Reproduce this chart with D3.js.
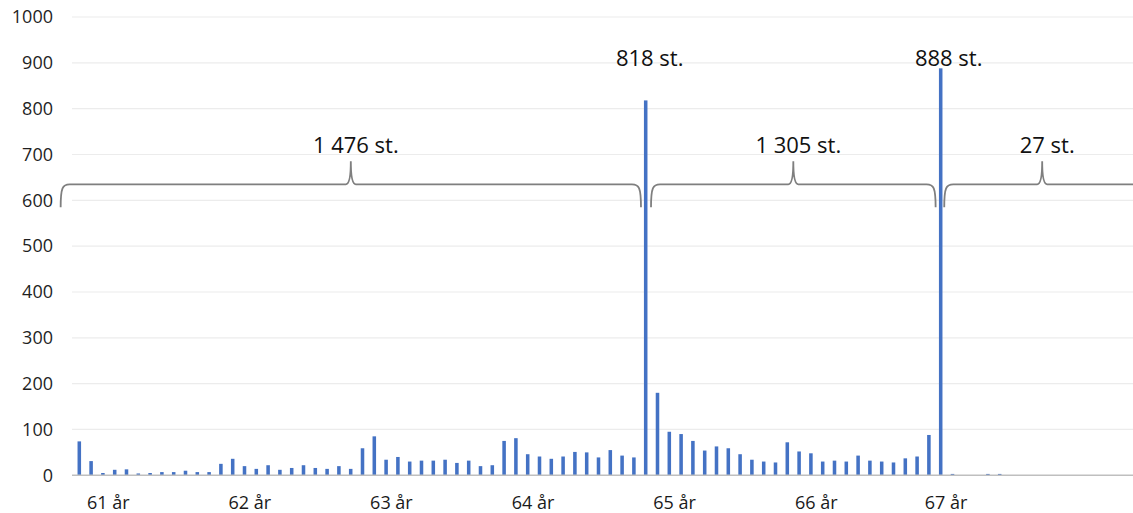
<!DOCTYPE html>
<html>
<head>
<meta charset="utf-8">
<script src="https://cdn.jsdelivr.net/npm/d3@7"></script>
<style>
  html, body { margin: 0; padding: 0; background: #fff; }
  svg { display: block; font-family: "Open Sans", "Noto Sans", sans-serif; }
</style>
</head>
<body>
<svg id="chart" width="1133" height="513"></svg>
<script>
// ---------- data ----------
const counts = [
  74, 31, 5, 12, 13, 4, 5, 7, 7, 10, 7, 7,
  25, 36, 20, 14, 22, 12, 16, 22, 16, 14, 20, 14,
  59, 85, 34, 40, 30, 32, 32, 34, 27, 32, 20, 22,
  75, 81, 46, 41, 36, 41, 51, 50, 39, 55, 43, 39,
  818,
  180, 95, 90, 75, 54, 63, 59, 46, 34, 30, 28, 72,
  52, 48, 30, 32, 30, 43, 32, 30, 28, 37, 41, 88,
  888,
  3, 0, 0, 3, 3, 0, 0, 0, 0, 0, 0, 0, 0, 0, 0, 0
];
const categories = counts.map((_, i) => (61 + Math.floor(i / 12)) + " år " + (i % 12) + " mån");
const yTicks = [0, 100, 200, 300, 400, 500, 600, 700, 800, 900, 1000];
const ageLabels = ["61 år", "62 år", "63 år", "64 år", "65 år", "66 år", "67 år"];
const ageLabelCats = [0, 12, 24, 36, 48, 60, 71];
const peakLabels = ["818 st.", "888 st."];
const peakCats = [48, 73];
const groupLabels = ["1 476 st.", "1 305 st.", "27 st."];
const groupFrom = [-1.58, 48.45, 73.3];
const groupTo = [47.6, 72.57, 89.9];
const braceLevel = 635;   // value level of the brace line
const peakLabelLevel = 893;

// ---------- layout ----------
const plotLeft = 72, plotRight = 1133;
const bandLeft = 73.4, step = 11.8;
const svg = d3.select("#chart");

const x = d3.scaleBand()
  .domain(categories)
  .range([bandLeft, bandLeft + step * categories.length])
  .paddingInner(0.7)
  .paddingOuter(0.35);
// fractional category position -> pixel centre
const pos = d3.scaleLinear()
  .domain([-0.5, categories.length - 0.5])
  .range([bandLeft, bandLeft + step * categories.length]);

const y = d3.scaleLinear().domain([0, 1000]).range([475.3, 17]);

// gridlines
svg.append("g")
  .selectAll("line")
  .data(yTicks.filter(d => d > 0))
  .join("line")
  .attr("x1", plotLeft).attr("x2", plotRight)
  .attr("y1", d => y(d)).attr("y2", d => y(d))
  .attr("stroke", "#ececec").attr("stroke-width", 1.2);

// y axis labels
const yAxis = d3.axisLeft(y).tickValues(yTicks).tickFormat(d3.format("d")).tickSize(0).tickPadding(0);
const gy = svg.append("g").attr("transform", "translate(53,0)").call(yAxis);
gy.select(".domain").remove();
gy.selectAll("text")
  .attr("font-size", 18)
  .attr("font-family", "'Open Sans', sans-serif")
  .attr("fill", "#1f1f1f");

// bars
svg.append("g")
  .selectAll("rect")
  .data(counts)
  .join("rect")
  .attr("x", (d, i) => x(categories[i]))
  .attr("width", x.bandwidth())
  .attr("y", d => y(d))
  .attr("height", d => y(0) - y(d))
  .attr("fill", "#4472C4");

// x axis line
svg.append("line")
  .attr("x1", plotLeft).attr("x2", plotRight)
  .attr("y1", y(0)).attr("y2", y(0))
  .attr("stroke", "#bfbfbf").attr("stroke-width", 1.5);

// age labels
svg.append("g")
  .selectAll("text")
  .data(ageLabels)
  .join("text")
  .attr("x", (d, i) => pos(ageLabelCats[i] + 2.45))
  .attr("y", 509)
  .attr("text-anchor", "middle")
  .attr("font-size", 18)
  .attr("fill", "#1a1a1a")
  .text(d => d);

// peak labels
svg.append("g")
  .selectAll("text")
  .data(peakLabels)
  .join("text")
  .attr("x", (d, i) => pos(peakCats[i]) + (i === 0 ? 4 : 8))
  .attr("y", y(peakLabelLevel))
  .attr("text-anchor", "middle")
  .attr("font-size", 22)
  .attr("fill", "#111")
  .text(d => d);

// braces
function bracePath(xs, xe, hy) {
  const ty = hy + 23, py = hy - 23, xp = (xs + xe) / 2;
  return `M${xs},${ty} C${xs},${hy + 3} ${xs + 2},${hy} ${xs + 9},${hy}` +
         ` L${xp - 5},${hy} Q${xp},${hy} ${xp},${py} Q${xp},${hy} ${xp + 5},${hy}` +
         ` L${xe - 9},${hy} C${xe - 2},${hy} ${xe},${hy + 3} ${xe},${ty}`;
}
const braces = groupLabels.map((label, i) => ({ label, xs: pos(groupFrom[i]), xe: pos(groupTo[i]) }));
const gb = svg.append("g");
gb.selectAll("path")
  .data(braces)
  .join("path")
  .attr("d", d => bracePath(d.xs, d.xe, y(braceLevel)))
  .attr("fill", "none")
  .attr("stroke", "#7f7f7f")
  .attr("stroke-width", 1.8);
gb.selectAll("text")
  .data(braces)
  .join("text")
  .attr("x", d => (d.xs + d.xe) / 2 + 5)
  .attr("y", y(braceLevel) - 31)
  .attr("text-anchor", "middle")
  .attr("font-size", 22)
  .attr("fill", "#111")
  .text(d => d.label);
</script>
</body>
</html>
